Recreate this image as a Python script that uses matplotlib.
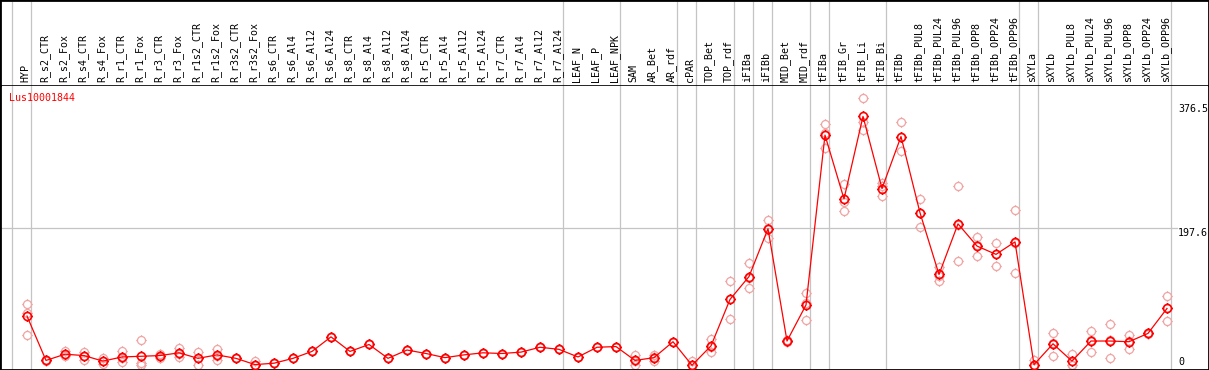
# Expression profile of one gene across sample types
import numpy as np
import matplotlib.pyplot as plt
from matplotlib.path import Path

# %% Data
gene = "Lus10001844"

samples = ["HYP",
           "R_s2_CTR", "R_s2_Fox", "R_s4_CTR", "R_s4_Fox", "R_r1_CTR", "R_r1_Fox",
           "R_r3_CTR", "R_r3_Fox", "R_r1s2_CTR", "R_r1s2_Fox", "R_r3s2_CTR", "R_r3s2_Fox",
           "R_s6_CTR", "R_s6_Al4", "R_s6_Al12", "R_s6_Al24",
           "R_s8_CTR", "R_s8_Al4", "R_s8_Al12", "R_s8_Al24",
           "R_r5_CTR", "R_r5_Al4", "R_r5_Al12", "R_r5_Al24",
           "R_r7_CTR", "R_r7_Al4", "R_r7_Al12", "R_r7_Al24",
           "LEAF_N", "LEAF_P", "LEAF_NPK", "SAM", "AR_Bet", "AR_rdf", "cPAR",
           "TOP_Bet", "TOP_rdf", "iFIBa", "iFIBb", "MID_Bet", "MID_rdf",
           "tFIBa", "tFIB_Gr", "tFIB_Li", "tFIB_Bi", "tFIBb",
           "tFIBb_PUL8", "tFIBb_PUL24", "tFIBb_PUL96", "tFIBb_OPP8", "tFIBb_OPP24", "tFIBb_OPP96",
           "sXYLa", "sXYLb",
           "sXYLb_PUL8", "sXYLb_PUL24", "sXYLb_PUL96", "sXYLb_OPP8", "sXYLb_OPP24", "sXYLb_OPP96"]

means = [71,
         7, 16, 14, 6, 12, 13, 14, 18, 10, 15, 10, 1,
         3, 10, 20, 41, 20, 30, 10, 22, 17, 11, 15, 18, 17, 19, 26, 23,
         12, 26, 27, 7, 11, 34, 0,
         28, 95, 128, 197, 35, 87,
         332, 240, 359, 255, 330,
         220, 131, 204, 172, 160, 178,
         1, 31, 6, 35, 35, 34, 46, 82]

# replicate values (pale circles)
reps = [[89, 76, 43],
        [8, 6, 7], [21, 13, 15], [19, 8, 14], [10, 2, 6], [21, 5, 11], [36, 0, 3],
        [16, 11, 14], [25, 12, 17], [19, 0, 11], [24, 13, 8], [10, 10, 10], [6, 0, 0],
        [3, 3, 3], [10, 10, 10], [20, 20, 20], [41, 41, 41],
        [20, 20, 20], [30, 30, 30], [10, 10, 10], [22, 22, 22],
        [17, 17, 17], [11, 11, 11], [15, 15, 15], [18, 18, 18],
        [17, 17, 17], [19, 19, 19], [26, 26, 26], [23, 23, 23],
        [12, 12, 12], [26, 26, 26], [27, 27, 27], [15, 0, 6], [15, 6, 12], [34, 34, 34], [6, 0, 0],
        [38, 19, 27], [122, 67, 96], [147, 111, 126], [210, 183, 198], [36, 34, 35], [104, 66, 90],
        [348, 313, 335], [261, 222, 236], [385, 340, 351], [263, 244, 258], [351, 309, 330],
        [240, 200, 220], [142, 122, 129], [258, 151, 203], [185, 158, 173], [176, 143, 161], [224, 133, 177],
        [7, 0, 0], [47, 14, 32],
        [17, 0, 1], [49, 19, 37], [59, 10, 36], [43, 24, 35], [47, 45, 46], [100, 64, 82]]

# sample index after which a group separator is drawn (-1 = before the first one)
dividers = [-1, 0, 28, 31, 34, 35, 37, 38, 39, 41, 42, 45, 52, 53, 60]
y_marks = [0, 197.6, 376.5]

# %% Figure setup
W, H = 1209, 370
head_px = 85
fig = plt.figure(figsize=(W / 100, H / 100), dpi=100)
ax = fig.add_axes([0, 0, 1, (H - head_px) / H])
hd = fig.add_axes([0, (H - head_px) / H, 1, head_px / H], sharex=ax)

x = np.arange(len(samples))
ax.set_xlim(-27 / 19, (W - 27) / 19)
ax.set_ylim(-6.8, 404.3)
hd.set_ylim(0, 1)

font = dict(family="DejaVu Sans Mono", size=7.2)

# circle marker with small ticks sticking out
circ = Path.unit_circle()
tick = Path([[1, 0], [1.3, 0], [-1, 0], [-1.3, 0], [0, 1], [0, 1.3], [0, -1], [0, -1.3]],
            [Path.MOVETO, Path.LINETO] * 4)
mark = Path.make_compound_path(circ, tick)

# %% Grid lines
for d in dividers:
    ax.axvline(d + 0.21, color="#c4c4c4", lw=0.9, zorder=0)
    hd.axvline(d + 0.21, color="#c4c4c4", lw=0.9, zorder=0)
ax.axhline(y_marks[1], xmin=0, xmax=1177 / W, color="#c4c4c4", lw=0.9, zorder=0)

# %% Data
for i, vals in enumerate(reps):
    ax.plot([x[i]] * len(vals), vals, ls="none", marker=mark, ms=7.5,
            mfc="none", mec="#f0a4a4", mew=0.9, zorder=2)
ax.plot(x, means, color="#ff0000", lw=0.9, marker=mark, ms=7.5,
        mfc="none", mec="#ff0000", mew=1.2, zorder=3)

# %% Texts
for i, s in enumerate(samples):
    hd.text(x[i] - 0.08, 0.03, s, rotation=90, ha="center", va="bottom", **font)

ax.text(9 / W, 1 - 12.7 / (H - head_px), gene, color="red", ha="left", va="center",
        transform=ax.transAxes, **font)

tx = ax.get_yaxis_transform()
ax.text(1178 / W, y_marks[2], f"{y_marks[2]:g}", ha="left", va="top", transform=tx, **font)
ax.text(1178 / W, y_marks[1], f"{y_marks[1]:g}", ha="left", va="top", transform=tx, **font)
ax.text(1178 / W, y_marks[0], f"{y_marks[0]:g}", ha="left", va="baseline", transform=tx, **font)

# %% Frames
for a in (ax, hd):
    a.set_xticks([])
    a.set_yticks([])
    for sp in a.spines.values():
        sp.set_color("black")
        sp.set_linewidth(2)
hd.spines["bottom"].set_visible(False)
ax.spines["top"].set_linewidth(1.2)

fig.savefig("out.png", dpi=100)
